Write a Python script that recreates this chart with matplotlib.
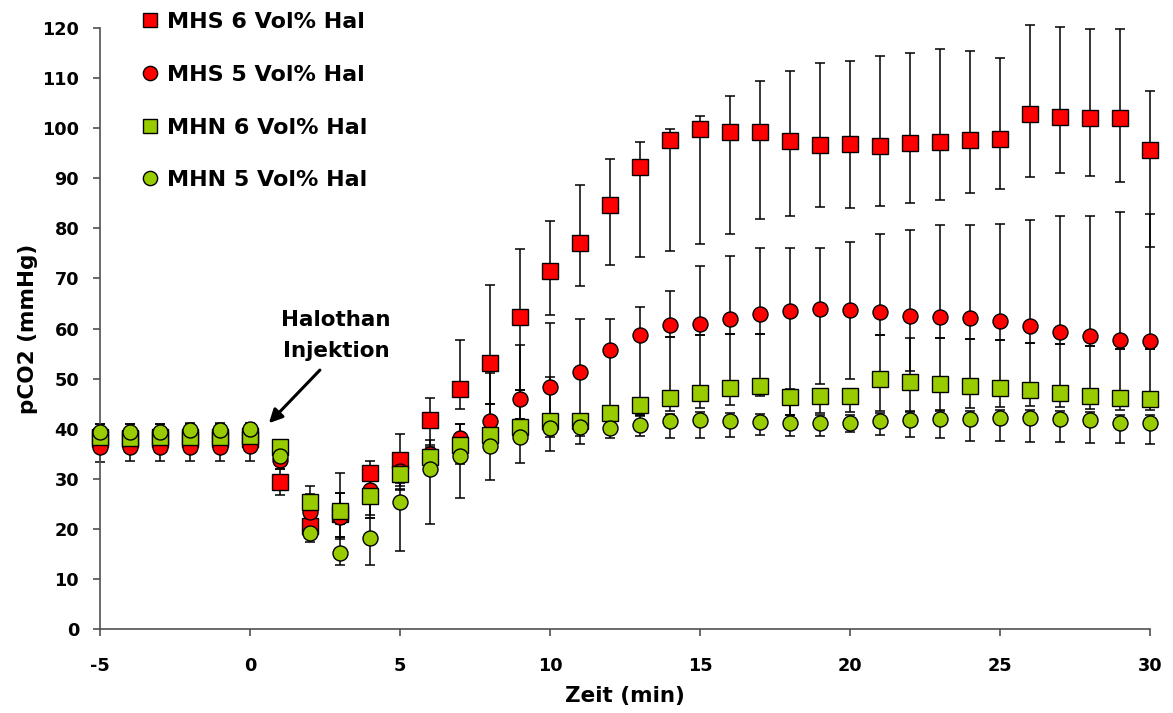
import matplotlib
matplotlib.use('Agg')
import matplotlib.pyplot as plt
from matplotlib.lines import Line2D
import numpy as np

plt.rcParams['font.family'] = ['DejaVu Sans']
plt.rcParams['font.weight'] = 'bold'
plt.rcParams['axes.unicode_minus'] = False

zeit = list(range(-5, 31))

# MHS 6 Vol% Hal (red squares): mean, upper end, lower end of the bar
mhs6 = [38.0, 38.0, 38.0, 38.0, 38.0, 38.0, 29.4, 20.6, 23.0, 31.2, 33.7, 41.7,
        47.9, 53.2, 62.2, 71.5, 77.1, 84.7, 92.3, 97.6, 99.9, 99.2, 99.2, 97.5,
        96.6, 96.8, 96.4, 97.0, 97.2, 97.6, 97.9, 102.8, 102.3, 102.0, 102.0, 95.7]
mhs6_hi = [40.9, 40.9, 40.9, 41.0, 41.0, 41.0, 32.0, 27.0, 31.1, 33.6, 38.9, 46.2,
           57.8, 68.7, 75.8, 81.5, 88.7, 93.9, 97.3, 99.8, 102.4, 106.4, 109.5, 111.4,
           113.0, 113.4, 114.4, 115.0, 115.9, 115.4, 114.0, 120.5, 120.2, 119.9, 119.9, 107.5]
mhs6_lo = [35.5, 35.5, 35.5, 35.5, 35.5, 35.5, 26.8, 18.5, 21.0, 27.5, 29.1, 36.4,
           43.9, 44.9, 47.7, 62.6, 68.5, 72.7, 74.3, 75.5, 76.8, 78.9, 81.9, 82.5,
           84.3, 84.1, 84.5, 85.1, 85.7, 87.1, 87.9, 90.2, 91.0, 90.5, 89.3, 76.3]

# MHS 5 Vol% Hal (red circles)
mhs5 = [36.4, 36.3, 36.4, 36.3, 36.4, 36.5, 33.7, 23.4, 22.4, 27.8, 31.5, 35.0,
        38.2, 41.5, 45.9, 48.3, 51.4, 55.7, 58.7, 60.6, 60.9, 61.9, 62.8, 63.5,
        63.8, 63.6, 63.2, 62.5, 62.2, 62.1, 61.5, 60.4, 59.4, 58.6, 57.8, 57.5]
mhs5_hi = [38.5, 38.5, 38.5, 38.5, 38.5, 38.5, 35.5, 25.0, 27.1, 31.0, 34.0, 37.7,
           41.0, 51.1, 56.7, 61.0, 61.8, 61.9, 64.2, 67.5, 72.4, 74.5, 76.1, 76.1,
           76.1, 77.3, 78.9, 79.7, 80.7, 80.6, 80.9, 81.7, 82.4, 82.5, 83.2, 82.9]
mhs5_lo = [33.4, 33.5, 33.6, 33.6, 33.5, 33.6, 32.0, 21.5, 18.4, 22.8, 28.5, 33.0,
           35.0, 38.0, 42.0, 42.5, 42.0, 44.0, 42.7, 58.4, 58.8, 59.0, 59.0, 42.7,
           48.9, 49.9, 58.8, 51.5, 58.2, 58.0, 57.8, 57.2, 56.9, 56.6, 56.0, 56.0]

# MHN 6 Vol% Hal (green squares)
mhn6 = [38.4, 38.2, 38.3, 38.4, 38.4, 38.5, 36.4, 25.3, 23.6, 26.6, 31.0, 34.3,
        36.7, 38.7, 40.4, 41.5, 41.6, 43.2, 44.7, 46.1, 47.2, 48.1, 48.5, 46.4,
        46.5, 46.6, 50.0, 49.4, 48.9, 48.5, 48.2, 47.7, 47.2, 46.6, 46.1, 45.9]
mhn6_hi = [40.0, 40.0, 40.0, 40.0, 40.0, 40.0, 37.5, 28.6, 27.1, 28.0, 32.0, 36.0,
           38.0, 40.0, 42.0, 50.3, 43.0, 44.5, 46.0, 58.4, 58.8, 59.0, 59.0, 48.0,
           48.0, 48.0, 58.8, 58.2, 58.2, 58.0, 57.8, 57.2, 56.9, 56.6, 56.0, 56.0]
mhn6_lo = [36.8, 36.8, 36.8, 36.8, 36.8, 36.8, 34.0, 23.5, 18.0, 22.2, 27.8, 31.0,
           33.0, 36.0, 38.0, 38.4, 38.5, 40.0, 42.7, 43.5, 44.1, 44.7, 46.5, 42.7,
           43.1, 43.4, 43.6, 43.6, 43.7, 44.2, 44.4, 44.6, 44.3, 43.9, 43.8, 43.8]

# MHN 5 Vol% Hal (green circles)
mhn5 = [39.3, 39.4, 39.3, 39.7, 39.7, 39.9, 34.5, 19.1, 15.2, 18.2, 25.3, 31.9,
        34.6, 36.5, 38.4, 40.2, 40.4, 40.1, 40.7, 41.5, 41.7, 41.5, 41.3, 41.2,
        41.1, 41.1, 41.6, 41.7, 42.0, 42.0, 42.1, 42.1, 41.9, 41.7, 41.2, 41.2]
mhn5_hi = [41.0, 41.0, 41.0, 41.1, 41.1, 41.2, 35.5, 21.0, 18.4, 22.2, 28.0, 36.7,
           41.0, 44.9, 47.7, 41.8, 42.0, 41.8, 42.5, 43.0, 43.3, 43.2, 43.0, 42.8,
           42.7, 42.7, 43.2, 43.3, 43.6, 43.6, 43.7, 43.7, 43.5, 43.3, 42.8, 42.8]
mhn5_lo = [38.0, 38.0, 38.0, 38.2, 38.2, 38.4, 33.0, 17.4, 12.8, 12.8, 15.6, 20.9,
           26.1, 29.8, 33.1, 35.5, 36.9, 38.1, 38.5, 38.2, 38.2, 38.3, 38.7, 38.5,
           38.5, 39.4, 38.7, 38.4, 38.1, 37.5, 37.5, 37.3, 37.3, 37.1, 37.1, 37.0]

series = [
    ('MHS 6 Vol% Hal', mhs6, mhs6_hi, mhs6_lo, 's', '#ff0000', 11.0),
    ('MHS 5 Vol% Hal', mhs5, mhs5_hi, mhs5_lo, 'o', '#ff0000', 10.8),
    ('MHN 6 Vol% Hal', mhn6, mhn6_hi, mhn6_lo, 's', '#99cc00', 11.0),
    ('MHN 5 Vol% Hal', mhn5, mhn5_hi, mhn5_lo, 'o', '#99cc00', 10.8),
]

fig = plt.figure(figsize=(11.73, 7.13), dpi=100)
ax = fig.add_axes([100 / 1173, 84 / 713, 1050 / 1173, 601 / 713])

x = np.array(zeit)
handles = []
for i, (name, mean, hi, lo, mk, col, ms) in enumerate(series):
    mean = np.array(mean)
    err = [mean - np.array(lo), np.array(hi) - mean]
    # bars first, all under the markers
    eb = ax.errorbar(x, mean, yerr=err, fmt='none', ecolor='black', elinewidth=1.1,
                     capsize=3.6, capthick=1.1, zorder=2)
    for art in eb.lines[1] + eb.lines[2]:
        art.set_clip_on(False)
    ax.plot(x, mean, linestyle='none', marker=mk, markersize=ms,
            markerfacecolor=col, markeredgecolor='black', markeredgewidth=1.0,
            zorder=5 + i, clip_on=False)
    handles.append(Line2D([], [], linestyle='none', marker=mk, markersize=ms * 0.95,
                          markerfacecolor=col, markeredgecolor='black',
                          markeredgewidth=1.0, label=name))

ax.set_xlim(-5, 30)
ax.set_ylim(0, 120)
ax.set_xticks(range(-5, 31, 5))
ax.set_yticks(range(0, 121, 10))
ax.spines['top'].set_visible(False)
ax.spines['right'].set_visible(False)
for s in ['left', 'bottom']:
    ax.spines[s].set_color('#505050')
    ax.spines[s].set_linewidth(1.2)
ax.tick_params(direction='out', length=5, width=1.2, color='#505050',
               labelsize=12.7)
ax.tick_params(axis='y', pad=10)
ax.tick_params(axis='x', pad=15)
for lab in ax.get_xticklabels() + ax.get_yticklabels():
    lab.set_fontweight('bold')

ax.set_xlabel('Zeit (min)', fontsize=15.5, fontweight='bold', labelpad=8)
ax.set_ylabel('pCO2 (mmHg)', fontsize=15.5, fontweight='bold', labelpad=3)

ax.text(2.87, 58.6, 'Halothan\nInjektion', ha='center', va='center',
        fontsize=15.5, fontweight='bold', linespacing=1.7)
ax.annotate('', xy=(0.63, 41.1), xytext=(2.33, 51.7),
            arrowprops=dict(arrowstyle='-|>,head_length=0.8,head_width=0.4',
                            color='black', lw=2.2, shrinkA=0, shrinkB=0))

fig.legend(handles=handles, loc='upper left', bbox_to_anchor=(128 / 1173, 1.0),
           frameon=False, handlelength=0.9, handletextpad=0.3,
           labelspacing=1.47, borderaxespad=0.15, prop={'weight': 'bold', 'size': 16})

fig.savefig('out.png', dpi=100)
